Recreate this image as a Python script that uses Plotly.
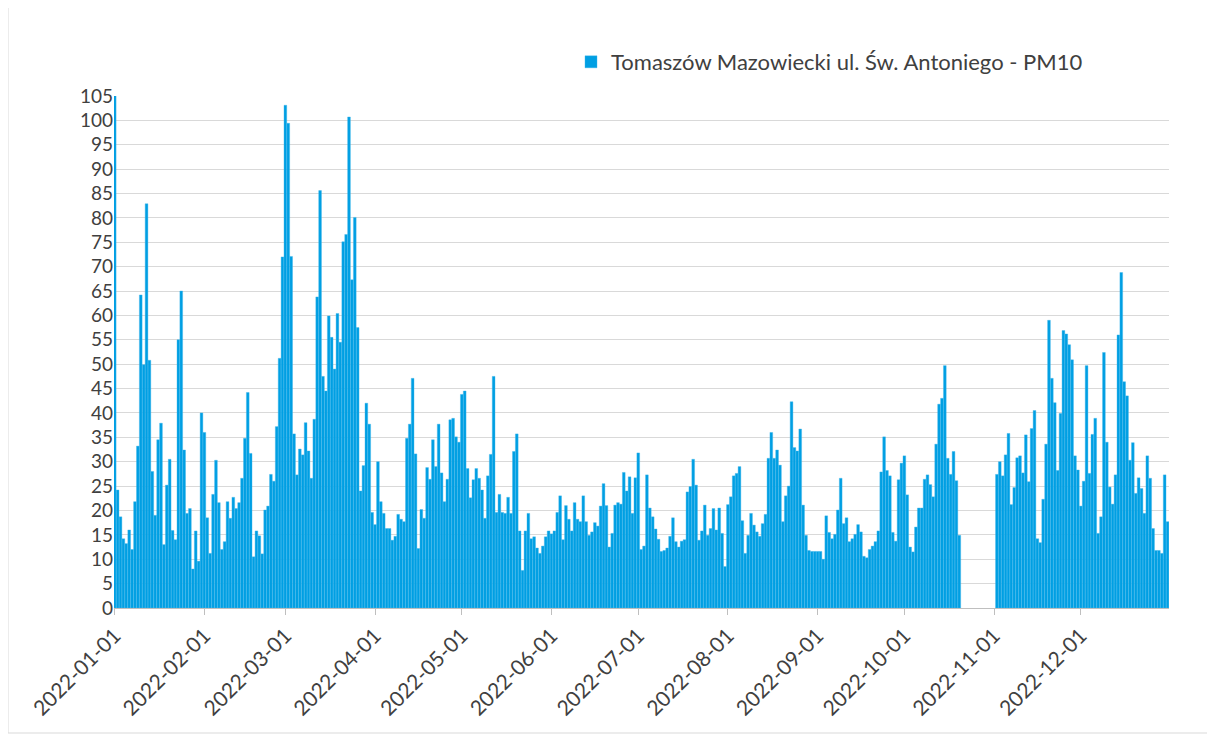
import pandas as pd
import plotly.graph_objects as go

jan = [110, 24.2, 18.7, 14.2, 13.2, 16, 12, 21.8, 33.2, 64.2, 49.9, 82.9, 50.8, 28, 19, 34.5,
       37.9, 13, 25.2, 30.5, 15.9, 14, 55, 65, 32.4, 19.4, 20.4, 8, 15.8, 9.6, 40]
feb = [36, 18.5, 11.2, 23.3, 30.3, 21.6, 12, 13.6, 21.8, 18.4, 22.7, 20.4, 21.6, 26.6, 34.8,
       44.2, 31.7, 10.5, 15.8, 14.8, 11.1, 20.1, 20.9, 27.4, 26, 37.2, 51.2, 72]
mar = [103.1, 99.4, 72.1, 35.7, 27.3, 32.6, 31.4, 38, 32.2, 26.6, 38.7, 63.8, 85.6, 47.5, 44.5,
       59.9, 55.5, 49, 60.4, 54.5, 75.1, 76.6, 100.7, 67.3, 80.1, 57.5, 24, 29.2, 42, 37.7, 19.6]
apr = [17.1, 30, 21.8, 19.4, 16.3, 16.3, 13.9, 14.7, 19.2, 18.2, 17.7, 34.8, 37.7, 47.1, 31.6,
       12.2, 20.2, 18.4, 28.8, 26.4, 34.5, 29, 37.7, 27.7, 21.8, 26.4, 38.6, 38.9, 35.1, 34]
may = [43.8, 44.5, 28.6, 22.6, 26.3, 28.6, 26.6, 24.2, 18.4, 27.1, 31.5, 47.5, 19.6, 23.3, 19.6,
       19.4, 22.7, 19.4, 32.1, 35.7, 15.8, 7.7, 15.8, 19.4, 14.2, 14.6, 12.3, 11.2, 12.7, 14.6, 15.8]
jun = [15.2, 15.8, 19.6, 23, 14, 21, 18.2, 15.8, 21.6, 18.2, 17.7, 23, 17.7, 14.9, 15.6,
       17.5, 16.8, 20.9, 25.5, 21, 12.5, 15.3, 21.1, 21.6, 21.3, 27.8, 24, 26.9, 19.4, 26.7]
jul = [31.8, 12, 12.7, 27.3, 20.5, 18.7, 16.2, 14.1, 11.6, 11.8, 12.3, 14.7, 18.5, 13.6, 12.5,
       13.7, 14, 23.8, 24.9, 30.5, 25.2, 13.9, 15.8, 21.1, 14.9, 16.3, 20.4, 16, 20.5, 15.3, 8.5]
aug = [21.2, 22.8, 27.1, 27.6, 29, 17.9, 11.2, 14.9, 19.4, 17, 15.6, 14.7, 17.3, 19.2, 30.7,
       36, 30.7, 32.4, 29.3, 17.7, 23, 25, 42.3, 32.9, 32.2, 36.7, 21.1, 14.9, 11.8, 11.6, 11.6]
sep = [11.6, 11.6, 10, 18.9, 15.5, 14.2, 15.1, 20.1, 26.6, 17.3, 18.5, 13.6, 14.2, 15.1, 17.1,
       15.6, 10.6, 10.3, 12, 12.7, 13.6, 15.8, 27.9, 35.1, 28.2, 27.1, 15.5, 13.7, 26.3, 29.7]
oct = [31.2, 23.2, 12.5, 11.5, 16.6, 20.5, 20.5, 26.4, 27.3, 25.3, 22.8, 33.6, 41.8, 43, 49.7,
       30.7, 27.4, 32.1, 26.1, 14.9] + [None] * 11
nov = [None, 27.4, 30, 27.1, 31.4, 35.8, 21.2, 24.7, 30.8, 31.2, 27.7, 35.5, 25.9, 36.8, 40.5,
       14.2, 13.4, 22.3, 33.6, 59, 47.1, 42.1, 28.2, 39.9, 56.9, 56.2, 54, 50.9, 31.2, 28.3]
dec = [20.9, 26, 49.7, 27.6, 35.6, 38.9, 15.3, 18.7, 52.4, 34, 24.8, 21.3, 27.3, 56, 68.8,
       46.4, 43.5, 30.3, 33.9, 23.5, 26.7, 24.5, 19.4, 31.2, 26.6, 16.3, 11.8, 11.8, 11.2, 27.3, 17.7]

pm10 = jan + feb + mar + apr + may + jun + jul + aug + sep + oct + nov + dec
days = pd.date_range("2022-01-01", periods=len(pm10), freq="D")
month_ticks = pd.date_range("2022-01-01", "2022-12-01", freq="MS")
series_name = "Tomaszów Mazowiecki ul. Św. Antoniego - PM10"

fig = go.Figure()

fig.add_trace(
    go.Bar(x=days, y=pm10, name=series_name,
           marker=dict(color="#009FE3", line=dict(color="#3DB5EB", width=0.4)))
)

# page puts the figure 8px in from the top-left corner
W, H = 1207, 730
ml, mr, mt, mb = 106, 46, 88, 130
pw, ph = W - ml - mr, H - mt - mb

fig.update_layout(
    width=W, height=H,
    margin=dict(l=ml, r=mr, t=mt, b=mb),
    paper_bgcolor="white", plot_bgcolor="white",
    font=dict(family="Lato", color="#404040"),
    bargap=0.06,
    showlegend=True,
    legend=dict(orientation="h", x=(563 - ml) / pw, xanchor="left",
                y=(H - mb - 54) / ph, yanchor="middle",
                font=dict(size=22, color="#404040")),
    shapes=[dict(type="rect", xref="paper", yref="paper",
                 x0=(0 - ml) / pw, x1=(1202 - ml) / pw,
                 y0=(H - mb - 725) / ph, y1=(H - mb - (-3)) / ph,
                 line=dict(color="#D9D9D9", width=1), fillcolor="rgba(0,0,0,0)")],
)

fig.update_xaxes(
    type="date", range=["2021-12-31 18:00", "2022-12-31 12:00"],
    tickvals=month_ticks, ticktext=[d.strftime("%Y-%m-%d") for d in month_ticks],
    tickangle=-45, tickfont=dict(size=21, color="#404040"),
    ticks="outside", ticklen=6, tickcolor="#BFBFBF",
    showline=True, linecolor="#BFBFBF", showgrid=False,
)

fig.update_yaxes(
    range=[0, 105], dtick=5, tick0=0,
    tickfont=dict(size=19, color="#404040"),
    showgrid=True, gridcolor="#D9D9D9", gridwidth=1,
    zeroline=False, showline=False, ticks="",
)

fig.write_html("out.html")
